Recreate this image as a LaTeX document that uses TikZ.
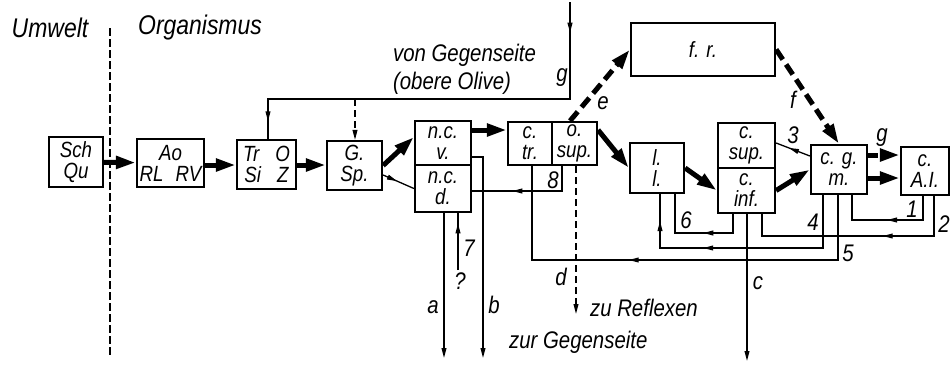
\documentclass[tikz,border=0pt]{standalone}
\usepackage{fontspec}
\setmainfont{Liberation Sans}[FakeStretch=0.85]
\usetikzlibrary{arrows.meta,decorations.markings}

\begin{document}
\begin{tikzpicture}[x=0.5pt,y=-0.5pt,
  font=\itshape\fontsize{12}{11}\selectfont,
  box/.style={draw,line width=1.1pt,align=center,inner sep=0pt,font=\itshape\fontsize{11}{10.5}\selectfont},
  big/.style={line width=2.5pt,-{Triangle[length=10pt,width=6pt]}},
  thinline/.style={line width=0.65pt},
  tip/.style={-{Triangle[length=5pt,width=2.4pt]}},
  midarr/.style={postaction={decorate,decoration={markings,mark=at position #1 with {\arrow{Triangle[length=5pt,width=2.4pt]}}}}}]
\useasboundingbox (0,0) rectangle (952,365);

% Umwelt | Organismus
\node[font=\itshape\fontsize{13.5}{12}\selectfont] (umw) at (50,28) {Umwelt};
\node[font=\itshape\fontsize{13.5}{12}\selectfont] (org) at (200,28) {Organismus};
\draw[thinline,dash pattern=on 4pt off 1.5pt] (110,28) -- (110,357);

% boxes
\node[box,minimum width=27pt,minimum height=25pt] (sch) at (76,162) {Sch\\Qu};
\node[box,minimum width=33.5pt,minimum height=24pt] (ao) at (170.5,163) {Ao\\RL\hspace{6pt}RV};
\node[box,minimum width=29.5pt,minimum height=24.5pt] (tr) at (266.5,164.5) {Tr\hspace{8pt}O\\Si\hspace{8pt}Z};
\node[box,minimum width=27.5pt,minimum height=24.5pt] (gsp) at (354.5,165.5) {G.\\Sp.};
\node[box,minimum width=28pt,minimum height=22pt] (ncv) at (443,143) {n.c.\\v.};
\node[box,minimum width=28pt,minimum height=23.5pt] (ncd) at (443,188.5) {n.c.\\d.};
\node[box,minimum width=22pt,minimum height=21.5pt] (ctr) at (530,143.5) {c.\\tr.};
\node[box,minimum width=22.5pt,minimum height=21.5pt] (osup) at (574.5,143.5) {o.\\sup.};
\node[box,minimum width=72pt,minimum height=26.5pt] (fr) at (703,49.5) {f. r.};
\node[box,minimum width=27pt,minimum height=25pt] (ll) at (657,168) {l.\\l.};
\node[box,minimum width=28.5pt,minimum height=22.5pt] (csup) at (746.5,145.5) {c.\\sup.};
\node[box,minimum width=28.5pt,minimum height=22.5pt] (cinf) at (746.5,190.5) {c.\\inf.};
\node[box,minimum width=28pt,minimum height=24.5pt] (cgm) at (839,169.5) {c. g.\\m.};
\node[box,minimum width=24pt,minimum height=24pt] (cai) at (925,171) {c.\\A.I.};

% main path
\draw[big] (sch) -- (ao);
\draw[big] (ao.east |- 0,165) -- (tr.west |- 0,165);
\draw[big] (tr.east |- 0,165) -- (gsp.west |- 0,165);
\draw[big] (gsp.east) -- (ncv.west |- 0,137);
\draw[thinline,midarr=0.45] (gsp.east |- 0,175) -- (ncd.west);
\draw[big] (ncv.east |- 0,130) -- (ctr.west |- 0,130);
\draw[big] (osup.east |- 0,130) -- (ll.west);
\draw[big] (ll.east) -- (cinf.west);
\draw[big] (cinf.east) -- (cgm.west);
\draw[big] (cgm.east |- 0,178) -- (cai.west |- 0,178);
\draw[big,dash pattern=on 5pt off 3pt] (cgm.east |- 0,155) -- (cai.west |- 0,155);
\draw[big,dash pattern=on 6pt off 3pt] (osup.north -| 570,0) -- (fr.west);
\draw[big,dash pattern=on 6pt off 3pt] (fr.east) -- (cgm.north);
\draw[thinline,midarr=0.62] (cgm.west |- 0,156) -- (csup.east |- 0,143);

% von Gegenseite
\coordinate (gin) at (570,2);
\coordinate (gj) at (355,99);
\draw[thinline,midarr=0.07,midarr=0.96] (gin) -- (570,99) -| (tr.north -| 268,0);
\draw[thinline,tip,dash pattern=on 3.5pt off 2pt] (gj) -- (gsp.north -| 355,0);
\node[anchor=west] (vg) at (386,55) {von Gegenseite};
\node[anchor=west] (ol) at (386,83) {(obere Olive)};

% feedback lines
\coordinate (aend) at (444,358);
\coordinate (bend) at (483,358);
\coordinate (qst) at (458,270);
\draw[thinline,tip] (ncd.south -| 444,0) -- (aend);
\draw[thinline,midarr=0.82] (qst) -- (ncd.south -| 458,0);
\draw[thinline,tip] (ncv.east |- 0,157) -- (483,157) -- (bend);
\draw[thinline,midarr=0.65] (osup.south -| 562,0) |- (ncd.east |- 0,191);
\coordinate (dend) at (576,314);
\draw[thinline,tip,dash pattern=on 3.5pt off 2pt] (osup.south -| 576,0) -- (dend);
\draw[thinline,midarr=0.59] (cgm.south -| 838,0) -- (838,260) -| (ctr.south -| 532,0);
\draw[thinline,midarr=0.64,midarr=0.9] (cgm.south -| 823,0) -- (823,248) -| (ll.south -| 660,0);
\draw[thinline,midarr=0.42] (cinf.south -| 733,0) -- (733,233) -| (ll.south -| 675,0);
\coordinate (cend) at (747,361);
\draw[thinline,tip] (cinf.south -| 747,0) -- (cend);
\draw[thinline,midarr=0.39] (cai.south -| 934,0) -- (934,236) -| (cinf.south -| 762,0);
\draw[thinline,midarr=0.5] (cai.south -| 923,0) -- (923,220) -| (cgm.south -| 852,0);

% labels
\node (lg) at (562,78) {g};
\node (le) at (603,103) {e};
\node (lf) at (793,100) {f};
\node (lg2) at (882,138) {g};
\node (l3) at (793,135) {3};
\node (l1) at (912,209) {1};
\node (l2) at (944,224) {2};
\node (l4) at (813,222) {4};
\node (l5) at (848,253) {5};
\node (l6) at (686,220) {6};
\node (lc) at (758,283) {c};
\node (la) at (433,307) {a};
\node (lb) at (494,305) {b};
\node (l7) at (469,248) {7};
\node (lq) at (460,281) {?};
\node (l8) at (553,180) {8};
\node (ld) at (561,277) {d};
\node[anchor=west] (refl) at (583,308) {zu Reflexen};
\node[anchor=west] (gegen) at (502,342) {zur Gegenseite};
\end{tikzpicture}
\end{document}
